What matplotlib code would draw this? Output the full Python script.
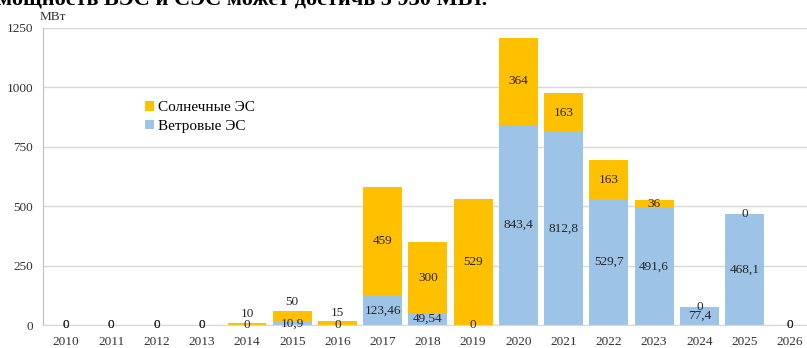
import numpy as np
import matplotlib.pyplot as plt

plt.rcParams['font.family'] = ['Liberation Serif', 'DejaVu Serif']

years = [str(y) for y in range(2010, 2027)]
wind = [0, 0, 0, 0, 0, 10.9, 0, 123.46, 49.54, 0, 843.4, 812.8, 529.7, 491.6, 77.4, 468.1, 0]
solar = [0, 0, 0, 0, 10, 50, 15, 459, 300, 529, 364, 163, 163, 36, 0, 0, 0]

wind_color = '#9DC3E6'
solar_color = '#FFC000'
label_color = '#262626'


def fmt(v):
    s = ('%.2f' % v).rstrip('0').rstrip('.')
    return s.replace('.', ',')


fig = plt.figure(figsize=(8.07, 3.48), dpi=100)
ax = fig.add_axes([43 / 807, 1 - 325 / 348, 1 - 43 / 807, 297 / 348])

x = np.arange(len(years))
w = 0.86
ax.bar(x, wind, w, color=wind_color, label='Ветровые ЭС', zorder=2)
ax.bar(x, solar, w, bottom=wind, color=solar_color, label='Солнечные ЭС', zorder=2)

# value labels: centred in each segment, zero values sit at the segment base
for i in x:
    wv, sv = wind[i], solar[i]
    ax.text(i, wv / 2, fmt(wv), ha='center', va='center', fontsize=9.5,
            color=label_color, zorder=3)
    if sv == 0:
        ax.text(i, wv, fmt(sv), ha='center', va='center', fontsize=9.5,
                color=label_color, zorder=3)
    elif sv < 60 and wv < 100:
        ax.annotate(fmt(sv), (i, wv + sv), xytext=(0, 2), textcoords='offset points',
                    ha='center', va='bottom', fontsize=9.5, color=label_color, zorder=3)
    else:
        ax.text(i, wv + sv / 2, fmt(sv), ha='center', va='center', fontsize=9.5,
                color=label_color, zorder=3)

ax.set_xlim(-0.51, 16.38)
ax.set_ylim(0, 1250)
ax.set_yticks([0, 250, 500, 750, 1000, 1250])
ax.set_xticks(x)
ax.set_xticklabels(years)
ax.tick_params(axis='both', length=0, labelsize=9.5, colors='#333333')
ax.tick_params(axis='x', pad=8)
ax.tick_params(axis='y', pad=7)
ax.yaxis.grid(True, color='#D9D9D9', linewidth=1, zorder=0)
ax.set_axisbelow(True)
for side in ['top', 'right']:
    ax.spines[side].set_visible(False)
ax.spines['left'].set_color('#BFBFBF')
ax.spines['bottom'].set_color('#D9D9D9')

fig.text(40 / 807, 1 - 17 / 348, 'МВт', fontsize=9.5, ha='left', va='center', color='#333333')

handles, labels = ax.get_legend_handles_labels()
ax.legend(handles[::-1], labels[::-1], loc='upper left', bbox_to_anchor=(0.125, 0.775),
          frameon=False, fontsize=11, handlelength=0.6, handleheight=0.6,
          handletextpad=0.3, labelspacing=0.35, borderaxespad=0)

# heading line above the chart, mostly cut off by the top edge
fig.text(-0.004, 1 - 4 / 348, 'мощность ВЭС и СЭС может достичь 5 930 МВт.', fontsize=16,
         fontweight='bold', ha='left', va='baseline', color='black')

fig.savefig('out.png', dpi=100)
